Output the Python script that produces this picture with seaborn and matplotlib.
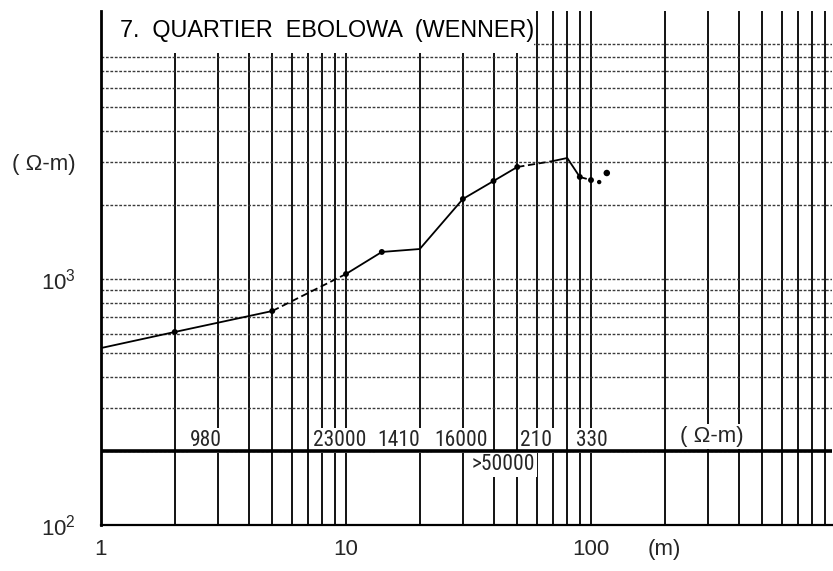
import numpy as np
import pandas as pd
import matplotlib
matplotlib.use("Agg")
import matplotlib.pyplot as plt
import seaborn as sns
from matplotlib import font_manager
from matplotlib.patches import Rectangle
from matplotlib.ticker import LogLocator, NullFormatter

# ---------------- data ----------------
spacing_m = [1, 2, 5, 10, 14, 20, 30, 40, 50, 70, 80, 90, 100]
rho_app = [524, 609, 741, 1048, 1288, 1324, 2115, 2502, 2853, 3017, 3104, 2599, 2524]
marked_x = [2, 5, 10, 14, 30, 40, 50, 90, 100]
# segments of the curve: (first index, last index, style)
segments = [(0, 2, "solid"), (2, 3, "dashed"), (3, 8, "solid"),
            (8, 9, "dashed"), (9, 11, "solid"), (11, 12, "dashed")]
extra_x = [108, 116]
extra_rho = [2478, 2697]

layer_labels = ["980", "23000", "1410", "16000", "210", "330"]
layer_label_x = [2.68, 9.45, 16.4, 29.5, 59.7, 100.5]
deep_label = ">50000"
deep_label_x = 43.7

x_ticks = [1, 10, 100, 200]
x_tick_labels = ["1", "10", "100", "(m)"]
y_ticks = [100, 1000, 3000]
y_tick_labels = [r"$\mathregular{10^2}$", r"$\mathregular{10^3}$", "( Ω-m)"]
title = "7.  QUARTIER  EBOLOWA  (WENNER)"

# ---------------- style ----------------
sns.set_style("white")
plt.rcParams["font.family"] = ["Liberation Sans", "DejaVu Sans"]

# pick a condensed face for the layer labels if one is installed
names = {f.name for f in font_manager.fontManager.ttflist}
narrow_kw = None
for cand in ["Liberation Sans Narrow", "Roboto Condensed", "Open Sans Condensed",
             "DejaVu Sans Condensed", "Noto Sans Condensed"]:
    if cand in names:
        narrow_kw = dict(family=[cand, "DejaVu Sans"], fontsize=15.5)
        break
if narrow_kw is None:
    cond = [f for f in font_manager.fontManager.ttflist
            if "ondensed" in str(f.stretch) or "ondensed" in f.fname]
    if cond:
        narrow_kw = dict(family=[cond[0].name, "DejaVu Sans"],
                         fontstretch="condensed", fontsize=15.5)
    else:
        narrow_kw = dict(family=["Liberation Sans", "DejaVu Sans"], fontsize=13.5)

fig = plt.figure(figsize=(8.33, 5.71), dpi=100)
ax = fig.add_axes([101 / 833, 46 / 571, 731 / 833, 514 / 571])
ax.set_xscale("log")
ax.set_yscale("log")
ax.set_xlim(1, 10 ** (731 / 245))
ax.set_ylim(100, 10 ** (2 + 514 / 246))

# grid
ax.set_axisbelow(True)
ax.xaxis.set_minor_locator(LogLocator(base=10, subs=np.arange(2, 10)))
ax.xaxis.set_minor_formatter(NullFormatter())
ax.yaxis.set_minor_locator(LogLocator(base=10, subs=np.arange(2, 10)))
ax.yaxis.set_minor_formatter(NullFormatter())
ax.grid(True, which="both", axis="x", color="black", lw=1.3, ls="-")
ax.grid(True, which="both", axis="y", color="#3a3a3a", lw=1.0, ls=(0, (2, 1.2)))
ax.axhline(200, color="black", lw=2.6, zorder=3.5)

ax.set_xticks(x_ticks, x_tick_labels)
ax.set_yticks(y_ticks, y_tick_labels)
ax.tick_params(axis="both", which="both", length=0)
ax.tick_params(axis="x", pad=10, labelsize=16)
ax.tick_params(axis="y", pad=18, labelsize=16)

for s in ["top", "right"]:
    ax.spines[s].set_visible(False)
ax.spines["left"].set_color("black")
ax.spines["left"].set_linewidth(2.0)
ax.spines["bottom"].set_color("black")
ax.spines["bottom"].set_linewidth(1.6)

# white area behind the title
ax.add_patch(Rectangle((0, 0.918), 0.592, 0.1, transform=ax.transAxes,
                       facecolor="white", edgecolor="none", zorder=1.2, clip_on=False))
ax.text(0.026, 0.963, title, transform=ax.transAxes, ha="left", va="center",
        fontsize=16.8, color="black", zorder=3)

# ---------------- curve ----------------
rows = []
for k, (i0, i1, st) in enumerate(segments):
    for i in range(i0, i1 + 1):
        rows.append({"x": spacing_m[i], "rho": rho_app[i], "seg": k, "style": st})
df = pd.DataFrame(rows)
sns.lineplot(data=df, x="x", y="rho", units="seg", estimator=None, style="style",
             dashes={"solid": "", "dashed": (4, 2)}, color="black", lw=1.3,
             sort=False, legend=False, ax=ax, zorder=4)

dm = pd.DataFrame({"x": spacing_m, "rho": rho_app})
dm = dm[dm["x"].isin(marked_x)]
sns.scatterplot(data=dm, x="x", y="rho", color="black", s=18, edgecolor="none",
                legend=False, ax=ax, zorder=5)
de = pd.DataFrame({"x": extra_x, "rho": extra_rho})
sns.scatterplot(data=de, x="x", y="rho", color="black", s=[10, 22], edgecolor="none",
                legend=False, ax=ax, zorder=5)

# ---------------- layer model labels ----------------
box = dict(boxstyle="square,pad=0.1", fc="white", ec="none")
for lx, lab in zip(layer_label_x, layer_labels):
    ax.text(lx, 209, lab, ha="center", va="baseline", bbox=box, zorder=3, **narrow_kw)
ax.text(deep_label_x, 168, deep_label, ha="center", va="baseline", bbox=box,
        zorder=3, **narrow_kw)
ax.text(312, 217, "( Ω-m)", ha="center", va="baseline", fontsize=16,
        bbox=box, zorder=3)

ax.set_xlabel("")
ax.set_ylabel("")
fig.savefig("out.png", dpi=100)
